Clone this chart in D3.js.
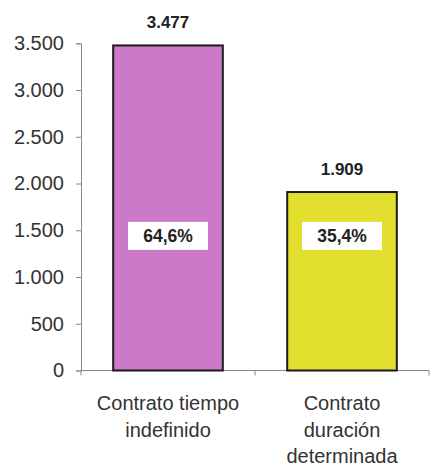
<!DOCTYPE html>
<html><head><meta charset="utf-8">
<script src="https://cdn.jsdelivr.net/npm/d3@7"></script>
<style>body{margin:0;background:#fff}svg{display:block}</style>
</head><body>
<script>
const categories = [["Contrato tiempo", "indefinido"], ["Contrato", "duración", "determinada"]];
const values = [3477, 1909];
const valueLabels = ["3.477", "1.909"];
const pctLabels = ["64,6%", "35,4%"];
const colors = ["#cc79c8", "#e2df2e"];
const yTicks = [0, 500, 1000, 1500, 2000, 2500, 3000, 3500];

const W = 430, H = 466;
const FONT = "Liberation Sans, Arial, sans-serif";
const svg = d3.select("body").append("svg").attr("width", W).attr("height", H);
const x = d3.scaleBand().domain([0, 1]).range([81, 429]).paddingInner(0.37).paddingOuter(0.185);
const y = d3.scaleLinear().domain([0, 3500]).range([370.5, 43.3]);
const fmt = d => d3.format(",")(d).replace(/,/g, ".");

// Y axis
const ya = svg.append("g").attr("transform", "translate(81,0)")
  .call(d3.axisLeft(y).tickValues(yTicks).tickSize(5).tickPadding(12).tickFormat(fmt));
ya.selectAll("path,line").attr("stroke", "#888");
ya.selectAll("text").attr("font-family", FONT).attr("font-size", 20).attr("fill", "#333");

// X axis
const xa = svg.append("g").attr("transform", "translate(0,370.5)");
xa.append("line").attr("x1", 81).attr("x2", 429).attr("stroke", "#888");
[0, 1, 2].forEach(i => {
  const px = 81 + i * (348 / 2);
  xa.append("line").attr("x1", px).attr("x2", px).attr("y1", 0).attr("y2", 5).attr("stroke", "#888");
});

// Bars
svg.selectAll("rect.bar").data(values).enter().append("rect")
  .attr("class", "bar")
  .attr("x", (d, i) => x(i)).attr("width", x.bandwidth())
  .attr("y", d => y(d)).attr("height", d => y(0) - y(d))
  .attr("fill", (d, i) => colors[i]).attr("stroke", "#1a1a1a").attr("stroke-width", 2);

// Value labels
svg.selectAll("text.val").data(values).enter().append("text")
  .attr("x", (d, i) => x(i) + x.bandwidth() / 2).attr("y", d => y(d) - 17)
  .attr("text-anchor", "middle").attr("font-family", FONT)
  .attr("font-weight", "bold").attr("font-size", 17).attr("fill", "#222")
  .text((d, i) => valueLabels[i]);

// Percent boxes
const pg = svg.selectAll("g.pct").data(pctLabels).enter().append("g")
  .attr("transform", (d, i) => `translate(${x(i) + x.bandwidth() / 2},${y(1440)})`);
pg.append("rect").attr("x", -40).attr("y", -14).attr("width", 80).attr("height", 28).attr("fill", "#fff");
pg.append("text").attr("text-anchor", "middle").attr("dy", "0.36em")
  .attr("font-family", FONT).attr("font-weight", "bold")
  .attr("font-size", 17.5).attr("fill", "#222").text(d => d);

// Category labels
categories.forEach((lines, i) => {
  const cx = 81 + (i + 0.5) * 174;
  const t = svg.append("text").attr("text-anchor", "middle")
    .attr("font-family", FONT).attr("font-size", 20).attr("fill", "#333");
  lines.forEach((l, j) => t.append("tspan").attr("x", cx).attr("y", 410 + j * 26.5).text(l));
});
</script>
</body></html>
